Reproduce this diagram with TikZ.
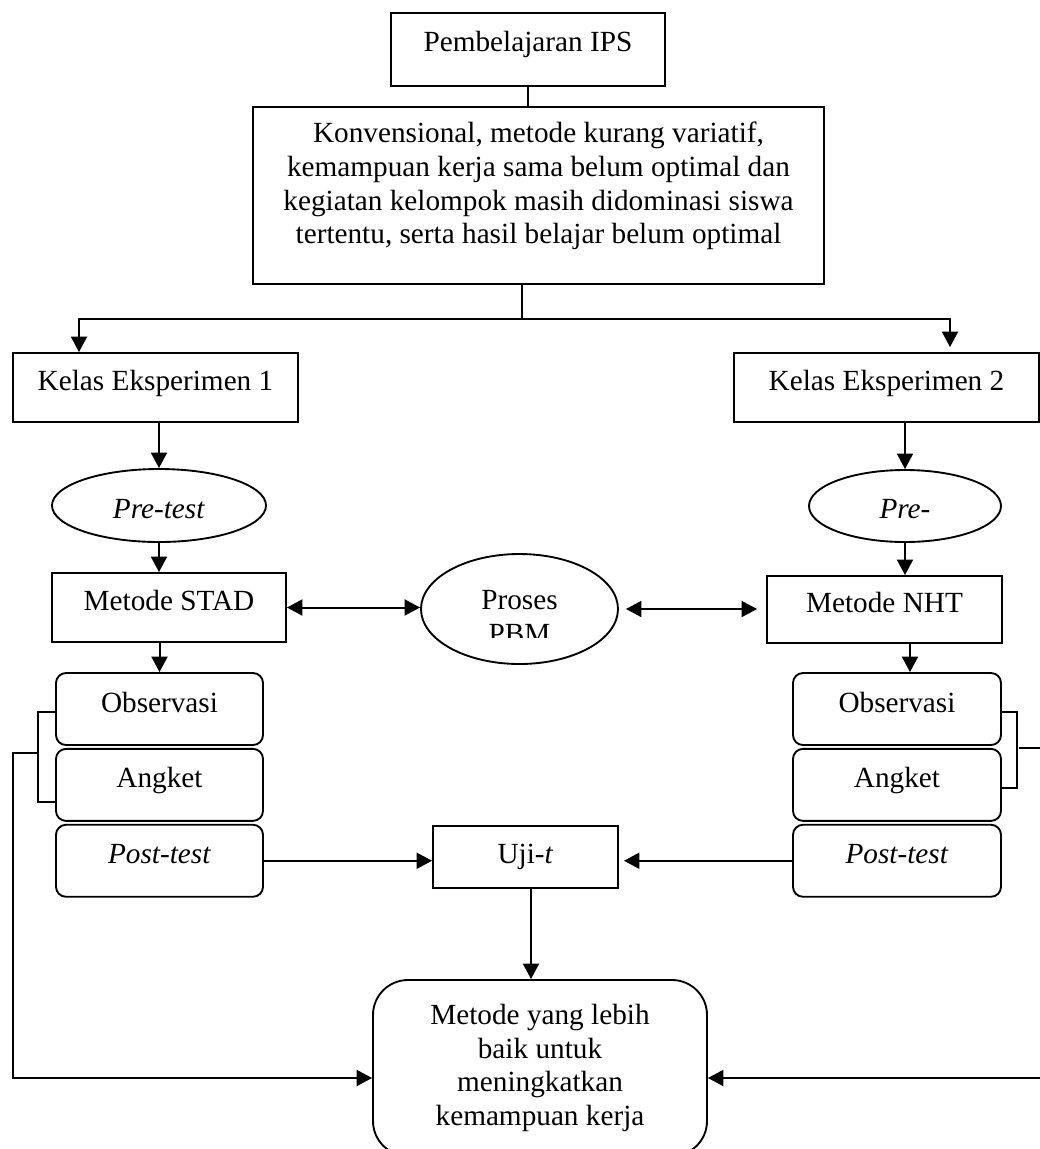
\documentclass[tikz,border=0pt]{standalone}
\usepackage{fontspec}
\setmainfont{Liberation Serif}
\usetikzlibrary{positioning, arrows.meta, shapes.geometric, calc}

\begin{document}
\begin{tikzpicture}[
        x=0.4pt, y=-0.4pt,
        font=\fontsize{11.7pt}{13.5pt}\selectfont,
        garis/.style={draw, line width=0.75pt, align=center, inner sep=0pt},
        kotak/.style={garis, text height=8pt, text depth=5.6pt},
        kotakbulat/.style={kotak, rounded corners=4pt, minimum height=28.8pt},
        elips/.style={draw, ellipse, line width=0.75pt, inner sep=0pt, text height=10pt, text depth=0pt},
        panah/.style={-{Triangle[length=6.2pt, width=6.4pt]}, line width=0.8pt},
        dua/.style={{Triangle[length=6.2pt, width=6.4pt]}-{Triangle[length=6.2pt, width=6.4pt]}, line width=0.8pt},
        tipis/.style={line width=0.5pt},
        kurung/.style={line width=0.5pt},
    ]
        \useasboundingbox (0,0) rectangle (1040,1149);
        \node[garis, text depth=6.8pt, minimum width=109.6pt, minimum height=29.2pt] (ips) at (528,49.5)
            {Pembelajaran IPS};
        \node[garis, text depth=10pt, minimum width=228.4pt, minimum height=70.8pt] (masalah) at (538.5,195.5)
            {Konvensional, metode kurang variatif,\\kemampuan kerja sama belum optimal dan\\kegiatan kelompok masih didominasi siswa\\tertentu, serta hasil belajar belum optimal};
        \node[kotak, minimum width=114pt, minimum height=27.6pt] (kelas1) at (155.5,387.5) {Kelas Eksperimen 1};
        \node[kotak, minimum width=122pt, minimum height=27.6pt] (kelas2) at (886.5,387.5) {Kelas Eksperimen 2};
        \node[elips, minimum width=85.6pt, minimum height=29.2pt] (pre1) at (159,505.5) {\textit{Pre-test}};
        \node[elips, minimum width=76.8pt, minimum height=28.8pt] (pre2) at (905,506) {\textit{Pre-}};
        \node[kotak, minimum width=93.6pt, minimum height=27.6pt] (stad) at (169,607.5) {Metode STAD};
        \node[kotak, minimum width=94pt, minimum height=26.8pt] (nht) at (884.5,609.5) {Metode NHT};
        \node[elips, minimum width=78.8pt, minimum height=44pt] (proses) at (519.5,609) {};
        \begin{scope}
            \clip (proses.north -| proses.west) rectangle ([yshift=10.8pt]proses.south -| proses.east);
            \node[align=center] (prosesteks) at ([yshift=-3.2pt]proses.center) {Proses\\PBM};
        \end{scope}
        \node[kotakbulat, minimum width=82.8pt] (obs1) at (159.5,709) {Observasi};
        \node[kotakbulat, minimum width=82.8pt, below=0.8pt of obs1] (ang1) {Angket};
        \node[kotakbulat, minimum width=82.8pt, below=0.8pt of ang1] (post1) {\textit{Post-test}};
        \node[kotakbulat, minimum width=83.2pt] (obs2) at (897,709) {Observasi};
        \node[kotakbulat, minimum width=83.2pt, below=0.8pt of obs2] (ang2) {Angket};
        \node[kotakbulat, minimum width=83.2pt, below=0.8pt of ang2] (post2) {\textit{Post-test}};
        \node[kotak, text depth=3.2pt, minimum width=74pt, minimum height=24.8pt] (uji) at (525.5,857) {Uji-\textit{t}};
        \node[garis, rounded corners=14pt, minimum width=133.6pt, minimum height=70.4pt] (hasil) at (540,1068)
            {Metode yang lebih\\baik untuk\\meningkatkan\\kemampuan kerja};
        % cabang ke dua kelas
        \coordinate (cabang) at (522,319);
        \draw[tipis] (ips.south) -- (ips.south |- masalah.north);
        \draw[tipis] (masalah.south -| cabang) -- (cabang);
        \draw[panah] (cabang) -| ([xshift=-30.6pt]kelas1.north);
        \draw[panah, shorten >=2pt] (cabang) -| ([xshift=25.4pt]kelas2.north);
        % kolom kiri dan kanan
        \draw[panah] (pre1.north |- kelas1.south) -- (pre1.north);
        \draw[panah] (pre1.south) -- (pre1.south |- stad.north);
        \draw[panah] (obs1.north |- stad.south) -- (obs1.north);
        \draw[panah] (pre2.north |- kelas2.south) -- (pre2.north);
        \draw[panah] (pre2.south) -- (pre2.south |- nht.north);
        \draw[panah] ([xshift=10.2pt]nht.south) -- ([xshift=10.2pt]nht.south |- obs2.north);
        \draw[dua] (stad.east) -- (stad.east -| proses.west);
        \draw[dua, shorten <=2.8pt, shorten >=3.6pt] (proses.east) -- (proses.east -| nht.west);
        \draw[panah] (post1.east) -- (post1.east -| uji.west);
        \draw[panah, shorten >=2pt] (post2.west) -- (post2.west -| uji.east);
        \draw[panah] ([xshift=2.2pt]uji.south) -- ([xshift=2.2pt]uji.south |- hasil.north);
        % kurung observasi dan angket
        \draw[kurung] ([yshift=-1.2pt]obs1.west) -- ++(-6.8pt,0pt) |- ([yshift=-6.8pt]ang1.west);
        \coordinate (k1) at (39,753);
        \draw[panah] (k1) -- ++(-10.4pt,0pt) |- ([yshift=-4pt]hasil.west);
        \draw[kurung] ([yshift=-1.2pt]obs2.east) -- ++(6pt,0pt) |- ([yshift=-1.2pt]ang2.east);
        \coordinate (k2) at (1019,748);
        \draw[panah] (k2) -- ++(12pt,0pt) |- ([yshift=-4pt]hasil.east);
\end{tikzpicture}
\end{document}
